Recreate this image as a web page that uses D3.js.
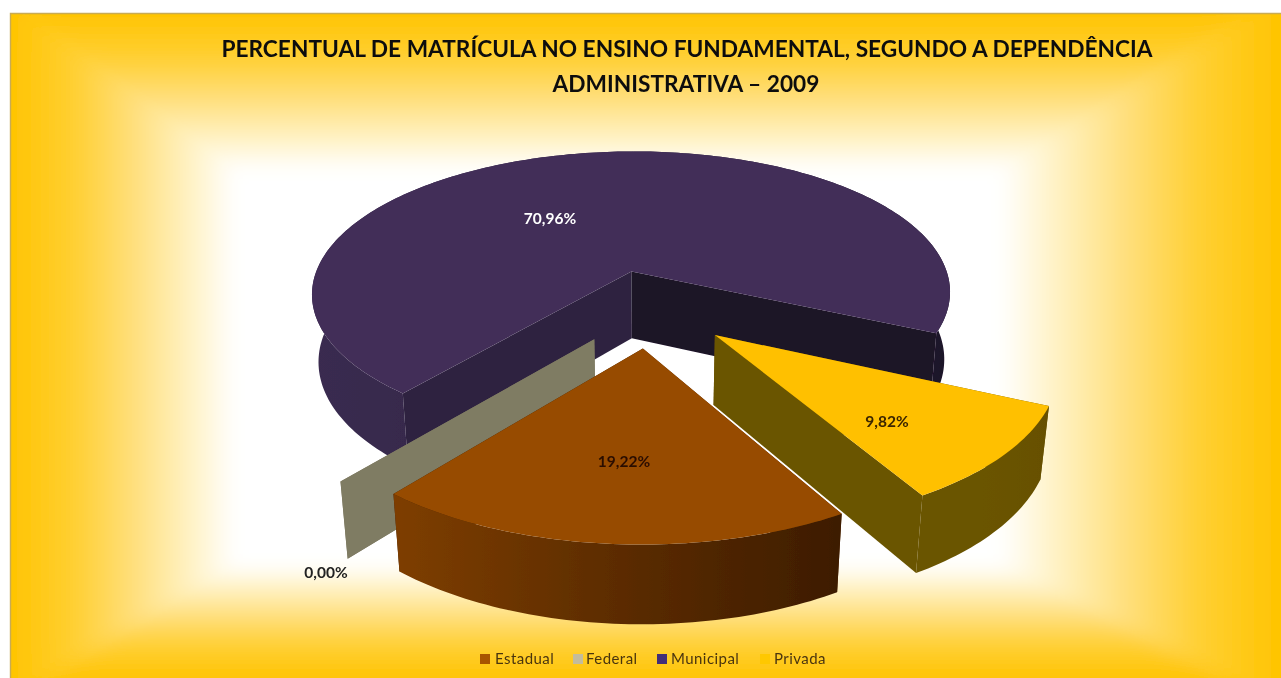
<!DOCTYPE html>
<html><head><meta charset="utf-8">
<script src="https://cdn.jsdelivr.net/npm/d3@7"></script>
<style>html,body{margin:0;padding:0;background:#fff;overflow:hidden}svg{display:block}text{font-family:Lato,"Open Sans",sans-serif}</style>
</head><body><svg id="c" width="1281" height="678"></svg>
<script>
const titleLines = ["PERCENTUAL DE MATRÍCULA NO ENSINO FUNDAMENTAL, SEGUNDO A DEPENDÊNCIA","ADMINISTRATIVA – 2009"];
const categories = ["Estadual","Federal","Municipal","Privada"];
const values = [19.22,0.00,70.96,9.82];
const valueLabels = ["19,22%","0,00%","70,96%","9,82%"];

const topColors = ["#974c00","#7f7b63","#432f58","#ffc000"];
const sideStops = [["#7e3e04","#5c2c02","#3d1c00"],["#7f7b63","#7f7b63","#7f7b63"],["#3a2b50","#2f2343","#1c1228"],["#6b5400","#6b5400","#665000"]];
const wallStart = ["#5c2c02","#7f7b63","#2e2340","#6b5400"];
const wallEnd = ["#3d1c00","#7f7b63","#1c1228","#6b5400"];
const legendSwatches = ["#a85400","#c4bc9c","#432f78","#ffc800"];
const labelColors = ["#2b0d05","#222","#fff","#3a2500"];
const labelXY = [[624,462],[326,573],[550,219],[887,422]];
const legendX = [[480,495],[573,586],[657,671],[760,774]];

const svg = d3.select("#c"), W=1281, H=678;
const frame = {x:10,y:13,x2:1281,y2:678};
const inner = {x:235,y:170,x2:1000,y2:565};
const pad = 60;
const defs = svg.append("defs");
defs.append("clipPath").attr("id","fr").append("rect").attr("x",frame.x).attr("y",frame.y).attr("width",frame.x2-frame.x).attr("height",frame.y2-frame.y);
const fBg=defs.append("filter").attr("id","bgBlur").attr("filterUnits","userSpaceOnUse").attr("x",-100).attr("y",-100).attr("width",W+200).attr("height",H+200);
fBg.append("feGaussianBlur").attr("stdDeviation",9);
const fSoft=defs.append("filter").attr("id","soft").attr("filterUnits","userSpaceOnUse").attr("x",0).attr("y",0).attr("width",W).attr("height",H);
fSoft.append("feGaussianBlur").attr("stdDeviation",0.5);
function bgGrad(id,x1,y1,x2,y2){
  const g=defs.append("linearGradient").attr("id",id).attr("gradientUnits","userSpaceOnUse")
    .attr("x1",x1).attr("y1",y1).attr("x2",x2).attr("y2",y2);
  [[0,"#ffc400"],[0.3,"#ffd035"],[0.55,"#ffdf7c"],[0.8,"#fff2c4"],[1,"#ffffff"]].forEach(s=>g.append("stop").attr("offset",s[0]).attr("stop-color",s[1]));
}
bgGrad("gL",frame.x,0,inner.x,0);bgGrad("gR",frame.x2,0,inner.x2,0);bgGrad("gT",0,frame.y,0,inner.y);bgGrad("gB",0,frame.y2,0,inner.y2);
const bg=svg.append("g").attr("clip-path","url(#fr)").append("g").attr("filter","url(#bgBlur)");
const poly=(pts,f)=>bg.append("polygon").attr("points",pts.map(p=>p.join(",")).join(" ")).attr("fill",f).attr("stroke",f).attr("stroke-width",0.6);
const o={x:frame.x-pad,y:frame.y-pad,x2:frame.x2+pad,y2:frame.y2+pad};
poly([[inner.x,inner.y],[inner.x2,inner.y],[inner.x2,inner.y2],[inner.x,inner.y2]],"#fff");
poly([[o.x,o.y],[inner.x,inner.y],[inner.x,inner.y2],[o.x,o.y2]],"url(#gL)");
poly([[o.x2,o.y],[inner.x2,inner.y],[inner.x2,inner.y2],[o.x2,o.y2]],"url(#gR)");
poly([[o.x,o.y],[o.x2,o.y],[inner.x2,inner.y],[inner.x,inner.y]],"url(#gT)");
poly([[o.x,o.y2],[o.x2,o.y2],[inner.x2,inner.y2],[inner.x,inner.y2]],"url(#gB)");
svg.append("path").attr("d",`M${frame.x+.5},${H}V${frame.y+.5}H${W}`).attr("fill","none").attr("stroke","#c8ab55").attr("stroke-width",1.4);

// projection of the tilted pie
const P={cx:650,cy:308,a:150,b:328,k:0.16,m:0.02,d:70,explode:0.26};
function proj(u,v,z){const w=1-P.k*v+P.m*z;return [P.cx+P.b*u/w,P.cy+(P.a*v+P.d*z)/w];}
const pie=d3.pie().sort(null).value(d=>d).startAngle(150*Math.PI/180).endAngle((150+360)*Math.PI/180);
const arcs=pie(values);
const line=d3.line();
const chart=svg.append("g").attr("filter","url(#soft)");

function slicePaths(a){
  const mid=(a.startAngle+a.endAngle)/2;
  const ox=P.explode*Math.sin(mid), oy=-P.explode*Math.cos(mid);
  const pt=(t,r,z)=>proj(ox+r*Math.sin(t),oy-r*Math.cos(t),z);
  const span=a.endAngle-a.startAngle;
  const n=Math.max(2,Math.ceil(span/0.02));
  const ts=d3.range(n+1).map(j=>a.startAngle+span*j/n);
  const top=[pt(0,0,0),...ts.map(t=>pt(t,1,0))];
  const side=[...ts.map(t=>pt(t,1,0)),...ts.slice().reverse().map(t=>pt(t,1,1))];
  const wall=t=>[pt(t,0,0),pt(t,1,0),pt(t,1,1),pt(t,0,1)];
  return {top,side,wallS:wall(a.startAngle),wallE:wall(a.endAngle)};
}
function drawSlice(i){
  const a=arcs[i], s=slicePaths(a), g=chart.append("g").attr("class","slice");
  const xs=s.side.map(p=>p[0]);
  const gid="side"+i;
  const lg=defs.append("linearGradient").attr("id",gid).attr("gradientUnits","userSpaceOnUse")
    .attr("x1",d3.min(xs)).attr("x2",d3.max(xs)).attr("y1",0).attr("y2",0);
  sideStops[i].forEach((c,j)=>lg.append("stop").attr("offset",j/2).attr("stop-color",c));
  const drawSide=()=>g.append("path").attr("d",line(s.side)+"Z").attr("fill",`url(#${gid})`);
  const big=(a.endAngle-a.startAngle)>Math.PI;
  if(big) drawSide();
  g.append("path").attr("d",line(s.wallS)+"Z").attr("fill",wallStart[i]);
  g.append("path").attr("d",line(s.wallE)+"Z").attr("fill",wallEnd[i]);
  if(!big) drawSide();
  if(a.endAngle>a.startAngle) g.append("path").attr("d",line(s.top)+"Z").attr("fill",topColors[i]);
}
[2,1,3,0].forEach(drawSlice);

const texts=svg.append("g").attr("filter","url(#soft)");
// data labels
texts.append("g").selectAll("text").data(valueLabels).join("text")
  .attr("x",(d,i)=>labelXY[i][0]).attr("y",(d,i)=>labelXY[i][1]).attr("dy","0.35em")
  .attr("text-anchor","middle").attr("font-size",15.5).attr("font-weight",700)
  .attr("fill",(d,i)=>labelColors[i]).text(d=>d);

// title
texts.append("g").selectAll("text").data(titleLines).join("text")
  .attr("x",(d,i)=>i?686:687).attr("y",(d,i)=>i?92:57).attr("text-anchor","middle")
  .attr("font-size",22.7).attr("font-weight",700).attr("fill","#111").text(d=>d);

// legend
const lg=texts.append("g").selectAll("g").data(categories).join("g");
lg.append("rect").attr("x",(d,i)=>legendX[i][0]).attr("y",654).attr("width",10).attr("height",10).attr("fill",(d,i)=>legendSwatches[i]);
lg.append("text").attr("x",(d,i)=>legendX[i][1]).attr("y",659).attr("dy","0.35em").attr("font-size",15).attr("fill","#4a3510").attr("letter-spacing",0.45).text(d=>d);
</script></body></html>
